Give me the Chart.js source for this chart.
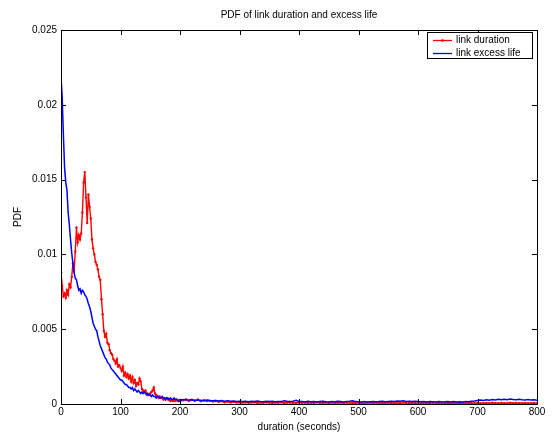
<!DOCTYPE html>
<html><head><meta charset="utf-8">
<script src="https://cdn.jsdelivr.net/npm/chart.js@4"></script>
<style>html,body{margin:0;padding:0;background:#fff;}#wrap{width:556px;height:434px;position:relative;}</style>
</head><body><div id="wrap"><canvas id="c" width="556" height="434"></canvas></div>
<script>
const seconds = [
0,2,4,6,8,10,12,14,16,18,20,22,24,26,28,30,32,34,36,38,40,42,44,46,48,50,52,54,56,58,
60,62,64,66,68,70,72,74,76,78,80,82,84,86,88,90,92,94,96,98,100,102,104,106,108,110,112,114,116,118,
120,122,124,126,128,130,132,134,136,138,140,142,144,146,148,150,152,154,156,158,160,162,164,166,168,170,172,174,176,178,
180,182,184,186,188,190,192,194,196,198,200,
205,210,215,220,225,230,235,240,245,250,255,260,265,270,275,280,285,290,295,300,
305,310,315,320,325,330,335,340,345,350,355,360,365,370,375,380,385,390,395,400,
405,410,415,420,425,430,435,440,445,450,455,460,465,470,475,480,485,490,495,500,
505,510,515,520,525,530,535,540,545,550,555,560,565,570,575,580,585,590,595,600,
605,610,615,620,625,630,635,640,645,650,655,660,665,670,675,680,685,690,695,700,
705,710,715,720,725,730,735,740,745,750,755,760,765,770,775,780,785,790,795,800];

const linkDuration = [
0.0088,0.0079,0.0072,0.0074,0.0071,0.0076,0.0073,0.0080,0.0078,0.0085,
0.0094,0.0089,0.0102,0.0118,0.0108,0.0113,0.0110,0.0114,0.0128,0.0148,
0.0155,0.0138,0.0121,0.0140,0.0132,0.0124,0.0110,0.0104,0.0100,0.0095,
0.0093,0.0090,0.0085,0.0083,0.0070,0.0060,0.0049,0.0045,0.0047,0.0041,
0.0040,0.0036,0.0034,0.0033,0.0030,0.0029,0.0027,0.0030,0.0025,0.0026,
0.0024,0.0022,0.0025,0.0019,0.0021,0.0018,0.0020,0.0017,0.0019,0.0015,
0.0018,0.0014,0.0016,0.0012,0.0014,0.0013,0.0017,0.0015,0.0010,0.0009,
0.0008,0.0009,0.0007,0.0006,0.0006,0.0007,0.0008,0.0009,0.0011,0.0007,
0.0006,0.0005,0.0004,0.0005,0.0004,0.0004,0.0003,0.0004,0.0003,0.0004,
0.0003,0.0003,0.0002,0.0003,0.0002,0.0003,0.0002,0.0003,0.0002,0.0002,
0.0002,
0.00025,0.0003,0.0002,0.00028,0.00022,0.0003,0.00018,0.00025,0.0002,0.00022,0.00016,0.0002,
0.00015,0.00018,0.00012,0.00016,0.0001,0.00014,0.0001,0.00012,
0.00009,0.00012,0.00008,0.0001,0.00011,0.00007,0.0001,0.00008,0.00012,0.00009,0.00007,0.0001,0.00008,0.00011,0.00007,0.00009,0.0001,0.00006,0.00009,0.00008,
0.00008,0.0001,0.00006,0.00009,0.00007,0.00011,0.00008,0.00006,0.0001,0.00007,0.00009,0.00006,0.00008,0.0001,0.00007,0.00009,0.00006,0.00008,0.00007,0.00009,
0.00007,0.00006,0.00009,0.00008,0.00006,0.0001,0.00007,0.00008,0.00006,0.00009,0.00007,0.00005,0.00008,0.00006,0.00009,0.00007,0.00006,0.00008,0.00005,0.00007,
0.00006,0.00008,0.00005,0.00007,0.00009,0.00006,0.00005,0.00008,0.00006,0.00007,0.00005,0.00008,0.00006,0.00005,0.00007,0.00006,0.00008,0.00005,0.00006,0.00007,
0.00006,0.00005,0.00007,0.00006,0.00008,0.00005,0.00006,0.00007,0.00005,0.00006,0.00008,0.00005,0.00007,0.00006,0.00005,0.00007,0.00006,0.00005,0.00007,0.00006];

const linkExcessLife = [
0.0218,0.0205,0.0180,0.0158,0.0148,0.0143,0.0128,0.0120,0.0110,0.0101,
0.0094,0.0088,0.0084,0.0083,0.0079,0.0076,0.0077,0.0074,0.0076,0.0075,
0.0073,0.0072,0.0070,0.0067,0.0065,0.0062,0.0058,0.0054,0.0052,0.0050,
0.0049,0.0045,0.0042,0.0039,0.0037,0.0035,0.0033,0.0031,0.0030,0.0028,
0.0027,0.0026,0.0024,0.0023,0.0022,0.0021,0.0020,0.0019,0.0018,0.0017,
0.0016,0.0016,0.0015,0.0014,0.0013,0.0013,0.0012,0.0011,0.0011,0.0010,
0.0011,0.0009,0.0010,0.0009,0.0008,0.0009,0.0008,0.0007,0.0008,0.0007,
0.0008,0.0007,0.0006,0.0007,0.0006,0.0006,0.0005,0.0006,0.0005,0.0005,
0.0004,0.0005,0.0005,0.0004,0.0004,0.0005,0.0004,0.0004,0.0003,0.0004,
0.0004,0.0003,0.0004,0.0003,0.0003,0.0004,0.0003,0.0003,0.0003,0.0002,
0.0003,
0.00028,0.0003,0.00026,0.00029,0.00024,0.00027,0.00025,0.00022,0.00026,0.00023,0.00021,0.00024,
0.0002,0.00023,0.00019,0.00021,0.00018,0.0002,0.00017,0.00019,
0.00016,0.00019,0.00015,0.00018,0.00016,0.0002,0.00017,0.00015,0.00018,0.00016,0.00019,0.00015,0.00017,0.00016,0.00021,0.00018,0.00016,0.00019,0.00025,0.00017,
0.00016,0.00014,0.00018,0.00015,0.00017,0.00013,0.00016,0.00019,0.00015,0.00014,0.00017,0.00015,0.00018,0.00016,0.00014,0.00017,0.00019,0.00022,0.00016,0.00015,
0.00014,0.00016,0.00013,0.00015,0.00017,0.00014,0.00016,0.00018,0.00015,0.00017,0.00019,0.00016,0.0002,0.00018,0.00021,0.00017,0.00019,0.00016,0.00018,0.00017,
0.00015,0.00017,0.00014,0.00016,0.00015,0.00013,0.00016,0.00014,0.00015,0.00017,0.00014,0.00016,0.00013,0.00015,0.00014,0.00016,0.00015,0.00018,0.0002,0.00024,
0.00026,0.00024,0.00028,0.00025,0.0003,0.00027,0.00032,0.00028,0.00031,0.00029,0.00033,0.0003,0.00028,0.00032,0.00029,0.00027,0.0003,0.00026,0.00028,0.00025];

const xTickValues = [0,100,200,300,400,500,600,700,800];
const xTickLabels = ['0','100','200','300','400','500','600','700','800'];
const yTickValues = [0,0.005,0.01,0.015,0.02,0.025];
const yTickLabels = ['0','0.005','0.01','0.015','0.02','0.025'];
const seriesNames = ['link duration','link excess life'];
const seriesColors = ['#ff0000','#0000ff'];
const chartTitle = 'PDF of link duration and excess life';
const xTitle = 'duration (seconds)';
const yTitle = 'PDF';

const FONT = "'Liberation Sans', Arial, Helvetica, sans-serif";
Chart.defaults.font.family = FONT;
Chart.defaults.font.size = 10;
Chart.defaults.color = '#000';

const toPts = vals => seconds.map((s, i) => ({x: s, y: vals[i]}));

const framePlugin = {
  id: 'frame',
  afterDraw(chart) {
    const {ctx, chartArea: {left, right, top, bottom}, scales: {x, y}} = chart;
    ctx.save();
    ctx.strokeStyle = '#000';
    ctx.lineWidth = 1;
    ctx.strokeRect(left + 0.5, top + 0.5, right - left, bottom - top);
    ctx.beginPath();
    xTickValues.forEach(v => {
      const px = Math.round(x.getPixelForValue(v)) + 0.5;
      ctx.moveTo(px, bottom); ctx.lineTo(px, bottom - 5);
      ctx.moveTo(px, top); ctx.lineTo(px, top + 5);
    });
    yTickValues.forEach(v => {
      const py = Math.round(y.getPixelForValue(v)) + 0.5;
      ctx.moveTo(left, py); ctx.lineTo(left + 5, py);
      ctx.moveTo(right, py); ctx.lineTo(right - 5, py);
    });
    ctx.stroke();
    // title
    ctx.fillStyle = '#000';
    ctx.font = '10px ' + FONT;
    ctx.textAlign = 'center';
    ctx.textBaseline = 'middle';
    ctx.fillText(chartTitle, (left + right) / 2, 15);
    // legend
    const bx = 427, by = 32, bw = 105, bh = 26;
    ctx.fillStyle = '#fff';
    ctx.fillRect(bx, by, bw, bh);
    ctx.strokeRect(bx + 0.5, by + 0.5, bw, bh);
    const rows = [40.5, 53.5];
    ctx.textAlign = 'left';
    seriesNames.forEach((name, i) => {
      ctx.strokeStyle = seriesColors[i];
      ctx.lineWidth = 1.3;
      ctx.beginPath();
      ctx.moveTo(433, rows[i]); ctx.lineTo(452, rows[i]);
      ctx.stroke();
      if (i === 0) {
        ctx.fillStyle = seriesColors[i];
        ctx.beginPath(); ctx.arc(442.5, rows[i], 1.3, 0, Math.PI * 2); ctx.fill();
      }
      ctx.fillStyle = '#000';
      ctx.fillText(name, 456, rows[i]);
    });
    ctx.restore();
  }
};

new Chart(document.getElementById('c'), {
  type: 'line',
  data: {
    datasets: [
      {label: seriesNames[0], data: toPts(linkDuration), borderColor: seriesColors[0], backgroundColor: seriesColors[0],
       borderWidth: 1.4, pointRadius: 1.2, pointBorderWidth: 0, pointBackgroundColor: seriesColors[0], tension: 0, order: 1},
      {label: seriesNames[1], data: toPts(linkExcessLife), borderColor: seriesColors[1], backgroundColor: seriesColors[1],
       borderWidth: 1.5, pointRadius: 0, tension: 0, order: 0}
    ]
  },
  options: {
    responsive: false,
    devicePixelRatio: 1,
    animation: false,
    layout: {padding: {top: 30, right: 19, left: 0, bottom: 0}},
    plugins: {legend: {display: false}, tooltip: {enabled: false}, title: {display: false}},
    scales: {
      x: {
        type: 'linear', min: 0, max: 800,
        grid: {display: false, drawTicks: false},
        border: {display: false},
        afterBuildTicks: s => { s.ticks = xTickValues.map(v => ({value: v})); },
        ticks: {padding: 2, maxRotation: 0, autoSkip: false, color: '#000',
                callback: (v) => xTickLabels[xTickValues.indexOf(v)]},
        title: {display: true, text: xTitle, color: '#000', font: {size: 10}, padding: {top: 0, bottom: 1}},
        afterFit: s => { s.height = 30; }
      },
      y: {
        type: 'linear', min: 0, max: 0.025,
        grid: {display: false, drawTicks: false},
        border: {display: false},
        afterBuildTicks: s => { s.ticks = yTickValues.map(v => ({value: v})); },
        ticks: {padding: 4, autoSkip: false, color: '#000',
                callback: (v) => yTickLabels[yTickValues.indexOf(v)]},
        title: {display: true, text: yTitle, color: '#000', font: {size: 10}, padding: {top: 12, bottom: 0}},
        afterFit: s => { s.width = 61; }
      }
    }
  },
  plugins: [framePlugin]
});
</script>
</body></html>
